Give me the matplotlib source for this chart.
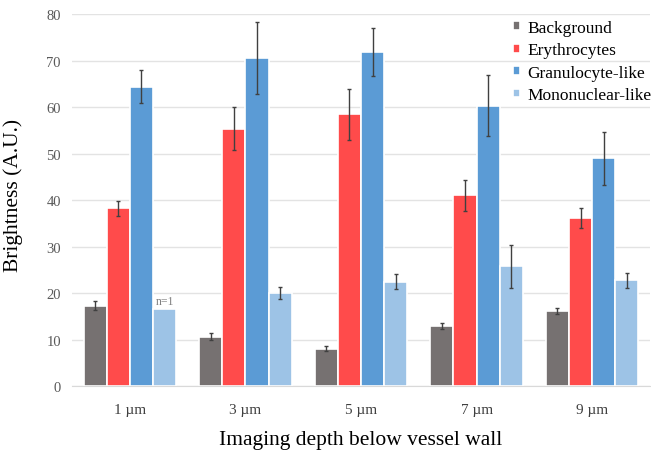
import numpy as np
import matplotlib.pyplot as plt

plt.rcParams['font.family'] = ['Liberation Serif', 'DejaVu Serif']

# data
depths = ['1 µm', '3 µm', '5 µm', '7 µm', '9 µm']
series = ['Background', 'Erythrocytes', 'Granulocyte-like', 'Mononuclear-like']
background = [17.3, 10.6, 8.0, 12.9, 16.1]
background_err = [0.9, 0.8, 0.5, 0.6, 0.6]
erythrocytes = [38.2, 55.3, 58.4, 41.0, 36.1]
erythrocytes_err = [1.6, 4.6, 5.5, 3.4, 2.1]
granulocyte = [64.4, 70.5, 71.8, 60.3, 49.0]
granulocyte_err = [3.6, 7.7, 5.1, 6.5, 5.7]
mononuclear = [16.5, 20.0, 22.4, 25.7, 22.7]
mononuclear_err = [0, 1.2, 1.6, 4.6, 1.6]

colors = ['#767171', '#FF4B4B', '#5B9BD5', '#9DC3E6']
values = [background, erythrocytes, granulocyte, mononuclear]
errors = [background_err, erythrocytes_err, granulocyte_err, mononuclear_err]

fig = plt.figure(figsize=(6.51, 4.52), dpi=100)
ax = fig.add_axes([0.1106, 0.1438, 0.8878, 0.823])

x = np.arange(len(depths))
w = 0.2
for i, (vals, errs) in enumerate(zip(values, errors)):
    pos = x + (i - 1.5) * w
    errs = np.array(errs, dtype=float)
    yerr = np.where(errs > 0, errs, np.nan)
    ax.bar(pos, vals, width=w, color=colors[i], edgecolor='white', linewidth=1.2,
           label=series[i], zorder=2)
    ax.errorbar(pos, vals, yerr=yerr, fmt='none', ecolor='#404040', elinewidth=1,
                capsize=1.5, capthick=1, zorder=3)

# n=1 note
ax.text(x[0] + 1.5 * w, mononuclear[0] + 0.4, 'n=1', ha='center', va='bottom',
        fontsize=8.5, color='#808080')

ax.set_xlim(-0.5, len(depths) - 0.5)
ax.set_ylim(0, 80)
ax.set_yticks(range(0, 81, 10))
ax.set_xticks(x)
ax.set_xticklabels(depths)
ax.tick_params(axis='y', length=0, labelsize=10.5, colors='#595959', pad=8)
ax.tick_params(axis='x', length=0, labelsize=11, colors='#404040', pad=12)
ax.grid(axis='y', color='#E3E3E3', linewidth=1, zorder=0)
ax.set_axisbelow(True)
for s in ['top', 'right', 'left']:
    ax.spines[s].set_visible(False)
ax.spines['bottom'].set_color('#D9D9D9')

ax.set_ylabel('Brightness (A.U.)', fontsize=15.5)
ax.yaxis.set_label_coords(-0.085, 0.516)
ax.set_xlabel('Imaging depth below vessel wall', fontsize=15.5, labelpad=10)

leg = ax.legend(loc='upper left', bbox_to_anchor=(513 / 651, 1 - 21 / 452),
                bbox_transform=fig.transFigure, frameon=False, fontsize=12.5,
                borderpad=0, borderaxespad=0,
                handlelength=0.4, handleheight=0.4, handletextpad=0.44, labelspacing=0.37)

fig.savefig('out.png', dpi=100)
